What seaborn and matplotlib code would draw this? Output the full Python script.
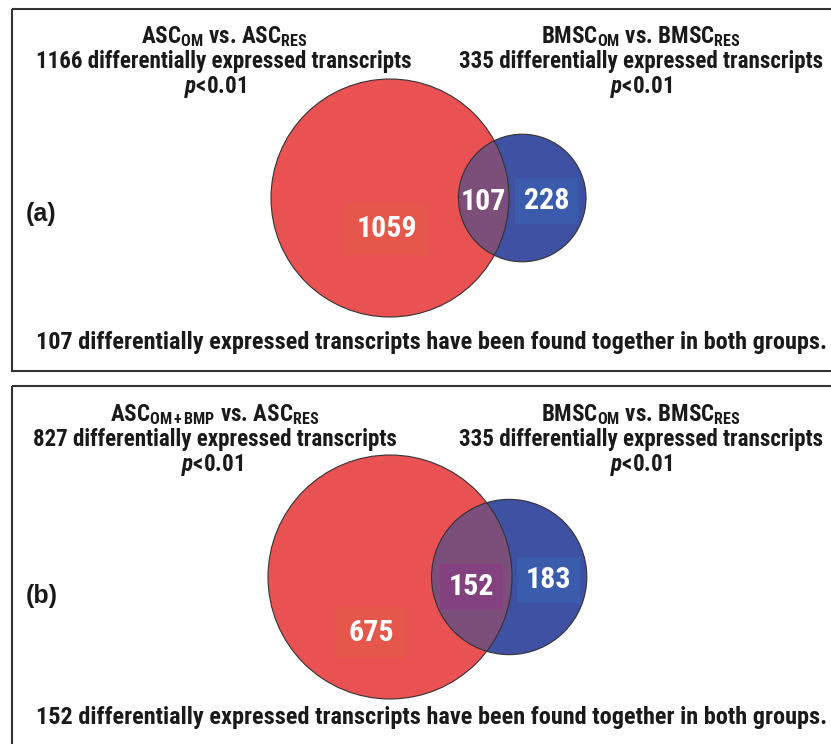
import numpy as np
import matplotlib
matplotlib.use("Agg")
import matplotlib.pyplot as plt
from matplotlib import font_manager
from matplotlib.patches import Circle, Rectangle
import seaborn as sns

# counts for each comparison
panel_tags = ["(a)", "(b)"]
left_groups = ["ASC$_{\\mathrm{OM}}$ vs. ASC$_{\\mathrm{RES}}$",
               "ASC$_{\\mathrm{OM+BMP}}$ vs. ASC$_{\\mathrm{RES}}$"]
right_groups = ["BMSC$_{\\mathrm{OM}}$ vs. BMSC$_{\\mathrm{RES}}$",
                "BMSC$_{\\mathrm{OM}}$ vs. BMSC$_{\\mathrm{RES}}$"]
left_total = [1166, 827]
right_total = [335, 335]
shared = [107, 152]
p_text = "$\\mathit{p}$<0.01"

sns.set_theme(style="white")

# a condensed face if one is installed, else plain Liberation Sans a bit smaller
names = {f.name for f in font_manager.fontManager.ttflist}
narrow = None
for cand in ["Liberation Sans Narrow", "Roboto Condensed", "DejaVu Sans Condensed",
             "Open Sans Condensed", "Noto Sans Condensed"]:
    if cand in names:
        narrow = cand
        break
if narrow is None:
    narrow = "Liberation Sans"
    hsize, fsize, nsize = 14.4, 15.5, 20
else:
    hsize, fsize, nsize = 16.6, 17.5, 21.5

plt.rcParams["font.family"] = [narrow, "DejaVu Sans"]
plt.rcParams["mathtext.fontset"] = "custom"
plt.rcParams["mathtext.rm"] = narrow + ":bold"
plt.rcParams["mathtext.it"] = narrow + ":bold:italic"
plt.rcParams["mathtext.bf"] = narrow + ":bold"

RED = "#ea5153"
BLUE = "#3f51a3"
MIX = "#7b4f7a"


def lens_area(r1, r2, d):
    if d >= r1 + r2:
        return 0.0
    if d <= abs(r1 - r2):
        return np.pi * min(r1, r2) ** 2
    a1 = r1 ** 2 * np.arccos((d ** 2 + r1 ** 2 - r2 ** 2) / (2 * d * r1))
    a2 = r2 ** 2 * np.arccos((d ** 2 + r2 ** 2 - r1 ** 2) / (2 * d * r2))
    a3 = 0.5 * np.sqrt((-d + r1 + r2) * (d + r1 - r2) * (d - r1 + r2) * (d + r1 + r2))
    return a1 + a2 - a3


def center_gap(r1, r2, target):
    lo, hi = abs(r1 - r2) + 1e-6, r1 + r2
    for _ in range(80):
        mid = 0.5 * (lo + hi)
        if lens_area(r1, r2, mid) > target:
            lo = mid
        else:
            hi = mid
    return 0.5 * (lo + hi)


fig = plt.figure(figsize=(8.31, 7.44), dpi=100)
ax = fig.add_axes([0, 0, 1, 1])
ax.set_xlim(0, 831)
ax.set_ylim(744, 0)
ax.axis("off")

# layout per panel (pixels)
tops = [9, 386]
heights = [362, 380]
red_r = [119, 122]
red_c = [(390, 198), (390, 577)]
red_lab = [(-3, 31), (-19, 56)]
mix_dy = [4, 10]
blue_dy = [3, 3]
box_red = ["#e4574a", "#e4574a"]
box_blue = ["#3b5bad", "#3b5bad"]
box_mix = [None, "#83417f"]
hdr = [(43, 68, 93), (421, 446, 471)]
foot = [349, 724]
left_x = [224, 215]
p_x = [215, 212]
right_x = 641

for i in range(2):
    ax.add_patch(Rectangle((12, tops[i]), 830, heights[i], fill=False,
                           ec="#333333", lw=1.5))
    r1 = red_r[i]
    r2 = r1 * np.sqrt(right_total[i] / left_total[i])
    d = center_gap(r1, r2, np.pi * r1 ** 2 * shared[i] / left_total[i])
    cx, cy = red_c[i]
    bx = cx + d
    red = Circle((cx, cy), r1, fc=RED, ec="none", zorder=2)
    blue = Circle((bx, cy), r2, fc=BLUE, ec="none", zorder=2)
    ax.add_patch(red)
    ax.add_patch(blue)
    mix = Circle((bx, cy), r2, fc=MIX, ec="none", zorder=3)
    ax.add_patch(mix)
    mix.set_clip_path(red)
    # outlines on top
    ax.add_patch(Circle((cx, cy), r1, fill=False, ec="#333333", lw=0.8, zorder=4))
    ax.add_patch(Circle((bx, cy), r2, fill=False, ec="#333333", lw=0.8, zorder=4))

    only_left = left_total[i] - shared[i]
    only_right = right_total[i] - shared[i]
    kw = dict(color="white", fontsize=nsize, fontweight="bold", ha="center",
              va="center", zorder=6)
    ax.text(cx + red_lab[i][0], cy + red_lab[i][1], str(only_left),
            bbox=dict(boxstyle="square,pad=0.4", fc=box_red[i], ec="none"), **kw)
    mix_box = None
    if box_mix[i]:
        mix_box = dict(boxstyle="square,pad=0.3", fc=box_mix[i], ec="none")
    ax.text(((bx - r2) + (cx + r1)) / 2, cy + mix_dy[i], str(shared[i]),
            bbox=mix_box, **kw)
    ax.text(((cx + r1) + (bx + r2)) / 2 - 1, cy + blue_dy[i], str(only_right),
            bbox=dict(boxstyle="square,pad=0.3", fc=box_blue[i], ec="none"), **kw)

    tk = dict(fontsize=hsize, fontweight="bold", ha="center", va="baseline",
              color="#1a1a1a")
    ax.text(left_x[i], hdr[i][0], left_groups[i], **tk)
    ax.text(left_x[i], hdr[i][1],
            f"{left_total[i]} differentially expressed transcripts", **tk)
    ax.text(p_x[i], hdr[i][2], p_text, **tk)
    ax.text(right_x, hdr[i][0], right_groups[i], **tk)
    ax.text(right_x, hdr[i][1],
            f"{right_total[i]} differentially expressed transcripts", **tk)
    ax.text(right_x, hdr[i][2], p_text, **tk)
    tk["fontsize"] = fsize
    ax.text(432, foot[i],
            f"{shared[i]} differentially expressed transcripts have been found together in both groups.",
            **tk)
    ax.text(26, (221, 603)[i], panel_tags[i], fontsize=18, fontweight="bold",
            ha="left", va="baseline", color="#1a1a1a",
            family=["Liberation Sans", "DejaVu Sans"])

fig.savefig("out.png", dpi=100)
